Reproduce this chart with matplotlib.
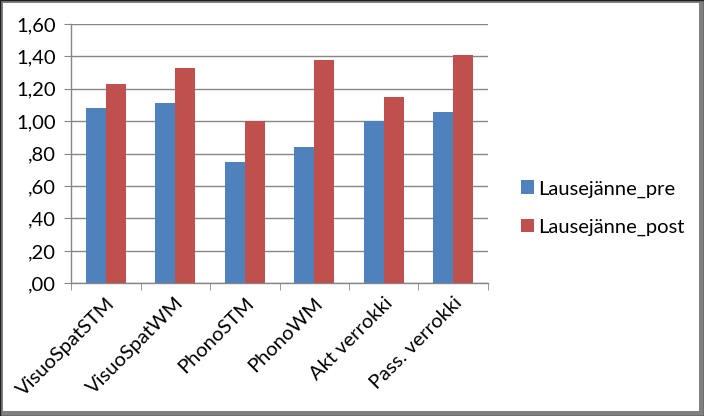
import matplotlib
matplotlib.use("Agg")
import matplotlib.pyplot as plt
from matplotlib.patches import Rectangle
from matplotlib.ticker import FixedLocator, FuncFormatter
import numpy as np

categories = ["VisuoSpatSTM", "VisuoSpatWM", "PhonoSTM", "PhonoWM",
              "Akt verrokki", "Pass. verrokki"]
pre = [1.08, 1.11, 0.75, 0.84, 1.00, 1.06]
post = [1.23, 1.33, 1.00, 1.38, 1.15, 1.41]
series_names = ["Lausejänne_pre", "Lausejänne_post"]
yticks = [0.0, 0.2, 0.4, 0.6, 0.8, 1.0, 1.2, 1.4, 1.6]

BLUE = "#4F81BD"
RED = "#C0504D"
GRID = "#868686"
FS = 14.5

plt.rcParams["font.family"] = ["Lato", "DejaVu Sans"]

fig = plt.figure(figsize=(7.04, 4.16), dpi=100)
fig.patch.set_facecolor("white")
# Excel-style frame with shadow, kept behind the axes
fig.add_artist(Rectangle((0, 0), 1, 1, transform=fig.transFigure,
                         facecolor="#808080", edgecolor="#202020", lw=1.0,
                         zorder=-10))
fig.add_artist(Rectangle((3 / 704, 5 / 416), 1 - 8 / 704, 1 - 8 / 416,
                         transform=fig.transFigure, facecolor="white",
                         edgecolor="none", zorder=-9))

ax = fig.add_axes([71 / 704, 1 - 283.3 / 416, (488 - 71) / 704, (283.3 - 24) / 416])
ax.set_facecolor("white")

x = np.arange(len(categories))
w = 0.29
ax.bar(x - w / 2, pre, w, color=BLUE, label=series_names[0], zorder=3)
ax.bar(x + w / 2, post, w, color=RED, label=series_names[1], zorder=3)

ax.set_xlim(-0.5, len(categories) - 0.5)
ax.set_ylim(0, 1.6)
ax.set_yticks(yticks)


def fmt(v, pos):
    s = f"{v:.2f}".replace(".", ",")
    if s.startswith("0"):
        s = s[1:]
    return s


ax.yaxis.set_major_formatter(FuncFormatter(fmt))
ax.grid(axis="y", color=GRID, lw=1.0, zorder=0)

for side in ["top", "right"]:
    ax.spines[side].set_visible(False)
for side in ["left", "bottom"]:
    ax.spines[side].set_color(GRID)
    ax.spines[side].set_linewidth(1.0)

ax.tick_params(axis="y", length=5, color=GRID, labelsize=FS, pad=6,
               labelcolor="#000000")
ax.tick_params(axis="x", which="major", length=0, labelsize=FS, pad=8)
ax.xaxis.set_minor_locator(FixedLocator(np.arange(-0.5, len(categories), 1)))
ax.tick_params(axis="x", which="minor", length=5, color=GRID)
ax.set_xticks(x)
ax.set_xticklabels(categories, rotation=45, ha="right", rotation_mode="anchor")

leg = ax.legend(loc="center left", bbox_to_anchor=(1.035, 0.29), frameon=False,
                fontsize=FS, handlelength=0.65, handleheight=0.65,
                handletextpad=0.2, labelspacing=1.05)

fig.savefig("out.png", dpi=100)
